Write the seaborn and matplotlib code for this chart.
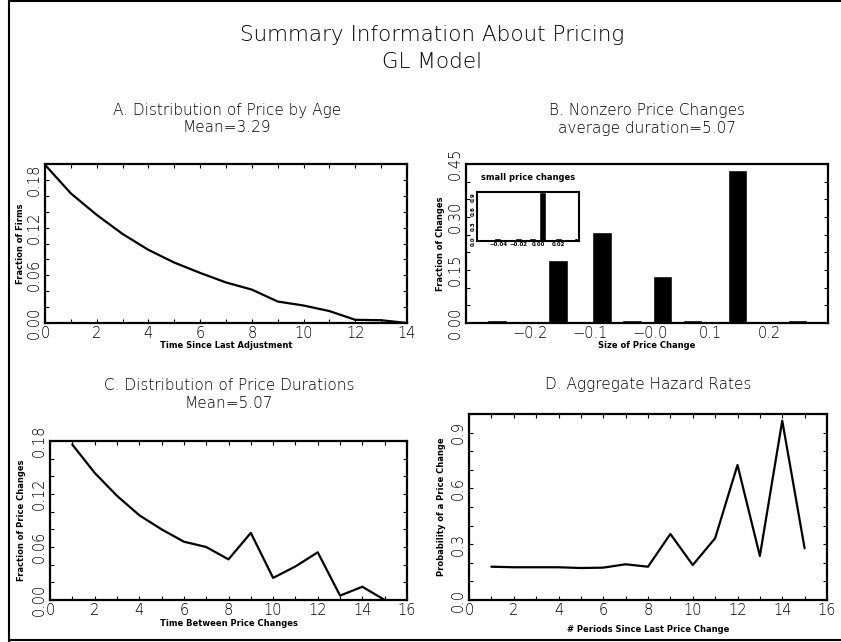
import matplotlib
matplotlib.use("Agg")
import matplotlib.pyplot as plt
from matplotlib.lines import Line2D
from matplotlib.ticker import MultipleLocator
import seaborn as sns

sns.set_style("ticks")
plt.rcParams['font.family'] = ['DejaVu Sans']
plt.rcParams['font.weight'] = 'light'
for k in ['text.color', 'axes.labelcolor', 'xtick.color', 'ytick.color']:
    plt.rcParams[k] = 'black'

W, H = 841, 642

# A. distribution of price by age
age_x = list(range(15))
age_frac = [0.199, 0.163, 0.136, 0.112, 0.092, 0.076, 0.063, 0.051, 0.042,
            0.027, 0.022, 0.015, 0.004, 0.0035, 0.0]

# B. nonzero price changes
change_size = [-0.255, -0.154, -0.080, -0.030, 0.021, 0.071, 0.146, 0.246]
change_frac = [0.008, 0.177, 0.258, 0.008, 0.134, 0.008, 0.434, 0.008]
change_ticks = [-0.2, -0.1, 0.0, 0.1, 0.2]
change_labels = ["\u22120.2", "\u22120.1", "\u22120.0", "0.1", "0.2"]

# inset: small price changes
small_size = [-0.041, -0.020, -0.0055, 0.0042, 0.020, 0.039]
small_frac = [0.07, 0.07, 0.07, 1.0, 0.07, 0.07]
small_ticks = [-0.04, -0.02, 0.0, 0.02]
small_labels = ["\u22120.04", "\u22120.02", "0.00", "0.02"]

# C. distribution of price durations
dur_x = list(range(1, 16))
dur_frac = [0.176, 0.144, 0.118, 0.096, 0.080, 0.066, 0.060, 0.046, 0.076,
            0.025, 0.038, 0.054, 0.005, 0.015, 0.0]

# D. aggregate hazard rates
hazard = [0.179, 0.176, 0.176, 0.176, 0.172, 0.174, 0.192, 0.179, 0.355,
          0.188, 0.332, 0.726, 0.237, 0.964, 0.278]

fig = plt.figure(figsize=(W / 100, H / 100), dpi=100)


def add_ax(l, t, r, b):
    return fig.add_axes([l / W, 1 - b / H, (r - l) / W, (b - t) / H])


def style(ax, xmaj, xmin, ymaj, ymin, yfmt):
    for s in ax.spines.values():
        s.set_linewidth(1.6)
        s.set_color('black')
    ax.xaxis.set_major_locator(MultipleLocator(xmaj))
    ax.xaxis.set_minor_locator(MultipleLocator(xmin))
    ax.set_yticks(ymaj)
    ax.set_yticklabels([yfmt % v for v in ymaj])
    ax.yaxis.set_minor_locator(MultipleLocator(ymin))
    ax.tick_params(which='both', direction='in', top=True, right=True,
                   length=3, width=0.8, labelsize=10.5)
    ax.tick_params(axis='x', pad=2)
    ax.tick_params(axis='y', pad=2, labelrotation=90)
    plt.setp(ax.get_yticklabels(), va='center')


def labels(ax, xlab, ylab, box, xy, yx):
    l, t, r, b = box
    ax.set_xlabel(xlab, fontsize=6, fontweight='bold')
    ax.set_ylabel(ylab, fontsize=6, fontweight='bold')
    ax.xaxis.label.set_va('center')
    ax.yaxis.label.set_va('center')
    ax.xaxis.set_label_coords(0.5, (b - xy) / (b - t))
    ax.yaxis.set_label_coords((yx - l) / (r - l), 0.5)


def ftext(x, y, s, size, **kw):
    fig.text(x / W, 1 - y / H, s, ha='center', va='center', fontsize=size, **kw)


# titles
ftext(432, 35, "Summary Information About Pricing", 15.5)
ftext(432, 62, "GL Model", 15.5)
ftext(227, 110, "A. Distribution of Price by Age", 11)
ftext(227, 128, "Mean=3.29", 11)
ftext(647, 110, "B. Nonzero Price Changes", 11)
ftext(647, 128, "average duration=5.07", 11)
ftext(229, 385, "C. Distribution of Price Durations", 11)
ftext(229, 404, "Mean=5.07", 11)
ftext(648, 385, "D. Aggregate Hazard Rates", 11)

# panel A
boxA = (45, 164, 407, 323)
axA = add_ax(*boxA)
sns.lineplot(x=age_x, y=age_frac, ax=axA, color='black', linewidth=1.6)
axA.set_xlim(0, 14)
axA.set_ylim(0, 0.2)
style(axA, 2, 1, [0.0, 0.06, 0.12, 0.18], 0.02, "%.2f")
labels(axA, "Time Since Last Adjustment", "Fraction of Firms", boxA, 345, 21)

# panel B
boxB = (466, 164, 828, 323)
axB = add_ax(*boxB)
sns.barplot(x=change_size, y=change_frac, ax=axB, native_scale=True,
            orient='x', color='black', saturation=1, width=0.66, errorbar=None)
axB.set_xlim(-0.307, 0.297)
axB.set_ylim(0, 0.45)
style(axB, 0.1, 0.1, [0.0, 0.15, 0.30, 0.45], 0.05, "%.2f")
axB.set_xticks(change_ticks)
axB.set_xticklabels(change_labels)
axB.tick_params(axis='x', which='both', length=0)
labels(axB, "Size of Price Change", "Fraction of Changes", boxB, 345, 441)

# inset
boxI = (477, 192, 579, 241)
axI = add_ax(*boxI)
sns.barplot(x=small_size, y=small_frac, ax=axI, native_scale=True,
            orient='x', color='black', saturation=1, width=0.73, errorbar=None)
axI.set_xlim(-0.062, 0.041)
axI.set_ylim(0, 1.0)
for s in axI.spines.values():
    s.set_linewidth(1.5)
    s.set_color('black')
axI.set_xticks(small_ticks)
axI.set_xticklabels(small_labels)
axI.set_yticks([0.0, 0.3, 0.6, 0.9])
axI.set_yticklabels(["0.0", "0.3", "0.6", "0.9"])
axI.tick_params(which='both', length=0, labelsize=4, pad=1)
axI.tick_params(axis='y', labelrotation=90)
plt.setp(axI.get_yticklabels(), va='center', fontweight='bold')
plt.setp(axI.get_xticklabels(), fontweight='bold')
axI.set_xlabel("")
axI.set_ylabel("")
ftext(528, 178, "small price changes", 6, fontweight='bold')

# panel C
boxC = (50, 441, 407, 600)
axC = add_ax(*boxC)
sns.lineplot(x=dur_x, y=dur_frac, ax=axC, color='black', linewidth=1.6)
axC.set_xlim(0, 16)
axC.set_ylim(0, 0.18)
style(axC, 2, 1, [0.0, 0.06, 0.12, 0.18], 0.02, "%.2f")
labels(axC, "Time Between Price Changes", "Fraction of Price Changes", boxC, 624, 22)

# panel D
boxD = (469, 414, 827, 600)
axD = add_ax(*boxD)
sns.lineplot(x=dur_x, y=hazard, ax=axD, color='black', linewidth=1.6)
axD.set_xlim(0, 16)
axD.set_ylim(0, 1.0)
style(axD, 2, 1, [0.0, 0.3, 0.6, 0.9], 0.1, "%.1f")
labels(axD, "# Periods Since Last Price Change", "Probability of a Price Change", boxD, 630, 442)

# page frame
fig.add_artist(Line2D([8.5 / W, 8.5 / W], [0, 1], color='black', linewidth=1.5))
fig.add_artist(Line2D([8.5 / W, 1], [1 - 0.8 / H, 1 - 0.8 / H], color='black', linewidth=1.5))
fig.add_artist(Line2D([8.5 / W, 1], [1 - 639.5 / H, 1 - 639.5 / H], color='black', linewidth=1.5))

fig.savefig("out.png", dpi=100, facecolor='white')
